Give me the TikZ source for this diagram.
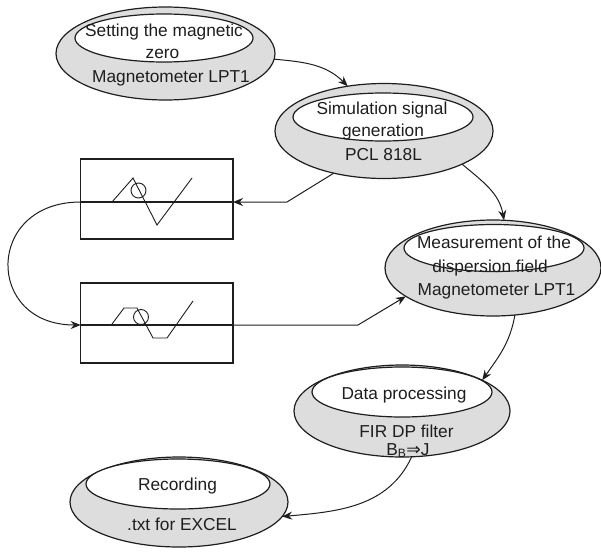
\documentclass[tikz,border=0pt]{standalone}
\usepackage{fontspec}
\setmainfont{Liberation Sans}
\newfontfamily\symfont{DejaVu Sans}
\usetikzlibrary{shapes.geometric,arrows.meta}
\definecolor{shade}{RGB}{221,221,221}
\definecolor{ink}{RGB}{30,30,30}
\begin{document}
\begin{tikzpicture}[x=1pt,y=-1pt,
  outerell/.style={ellipse,draw=ink,line width=1.2pt,fill=shade,inner sep=0pt,outer sep=0pt},
  innerell/.style={ellipse,draw=ink,line width=1.2pt,fill=white,inner sep=0pt,outer sep=0pt},
  lbl/.style={anchor=base,inner sep=0pt,font=\fontsize{17.3}{20}\selectfont,text=ink},
  wbox/.style={draw=ink,line width=1.2pt,fill=white,inner sep=0pt,outer sep=0pt},
  wave/.style={draw=ink,line width=0.9pt},
  axisline/.style={draw=ink,line width=1.2pt},
  conn/.style={draw=ink,line width=1pt,-{Stealth[length=10pt,width=8pt]}}
]
\useasboundingbox (0,0) rectangle (601,551);

% ellipse nodes
\node[outerell,minimum width=219pt,minimum height=93pt] (n1) at (165.5,53.5) {};
\node[innerell,minimum width=178pt,minimum height=48pt] (n1i) at (164,38) {};
\node[outerell,minimum width=218pt,minimum height=95pt] (n2) at (384,131) {};
\node[innerell,minimum width=180pt,minimum height=48pt] (n2i) at (383,117) {};
\node[outerell,minimum width=216pt,minimum height=96pt] (n3) at (493,268) {};
\node[innerell,minimum width=180pt,minimum height=47pt] (n3i) at (494,248) {};
\node[outerell,minimum width=216pt,minimum height=92pt] (n4) at (402,411) {};
\node[innerell,minimum width=180pt,minimum height=50pt] (n4i) at (402,392) {};
\node[outerell,minimum width=218pt,minimum height=90pt] (n5) at (179,502) {};
\node[innerell,minimum width=184pt,minimum height=50pt] (n5i) at (178,484) {};

% labels
\node[lbl] (t1a) at (164,37) {Setting the magnetic};
\node[lbl] (t1b) at (162.5,58) {zero};
\node[lbl] (t1c) at (171,82) {Magnetometer LPT1};
\node[lbl] (t2a) at (382,114) {Simulation signal};
\node[lbl] (t2b) at (383,136) {generation};
\node[lbl] (t2c) at (383.5,160) {PCL 818L};
\node[lbl] (t3a) at (494,248) {Measurement of the};
\node[lbl] (t3b) at (490,272) {dispersion field};
\node[lbl] (t3c) at (496.5,295) {Magnetometer LPT1};
\node[lbl] (t4a) at (404,399) {Data processing};
\node[lbl] (t4b) at (406.5,437) {FIR DP filter};
\node[lbl] (t4c) at (408,455) {B\textsubscript{B}{\symfont ⇒}J};
\node[lbl] (t5a) at (177.5,490) {Recording};
\node[lbl] (t5b) at (182,530) {.txt for EXCEL};

% signal boxes
\node[wbox,minimum width=152.3pt,minimum height=80pt] (box1) at (156.85,199) {};
\node[wbox,minimum width=152.3pt,minimum height=80pt] (box2) at (156.85,323) {};
\coordinate (b1l) at (80.7,202);
\coordinate (b1r) at (233,202);
\coordinate (b2l) at (80.7,325);
\coordinate (b2r) at (233,325);
\draw[axisline] (b1l) -- (b1r);
\draw[axisline] (b2l) -- (b2r);
\draw[wave] (112,202) -- (133,178) -- (157,225) -- (192,178);
\draw[wave] (138.5,190.5) circle[radius=7.5pt];
\draw[wave] (112,324) -- (124,308) -- (137,308) -- (153,338) -- (167,338) -- (193,301);
\draw[wave] (141,317) circle[radius=7.5pt];

% connectors
\coordinate (c2) at (287,202);
\coordinate (c4) at (358,325);
\draw[conn] (n1.-3) to[out=-5,in=135] (n2.129);
\draw[conn] (n2.220) -- (c2) -- (b1r);
\draw[conn] (b1l) to[out=180,in=180,looseness=2] (b2l);
\draw[conn] (b2r) -- (c4) -- (n3.198);
\draw[conn] (n2.-23) to[out=-40,in=100] (n3.77);
\draw[conn] (n3.-65) to[out=-100,in=55] (n4.21);
\draw[conn] (n4.-78) to[out=-115,in=5] (n5.-8);
\end{tikzpicture}
\end{document}
